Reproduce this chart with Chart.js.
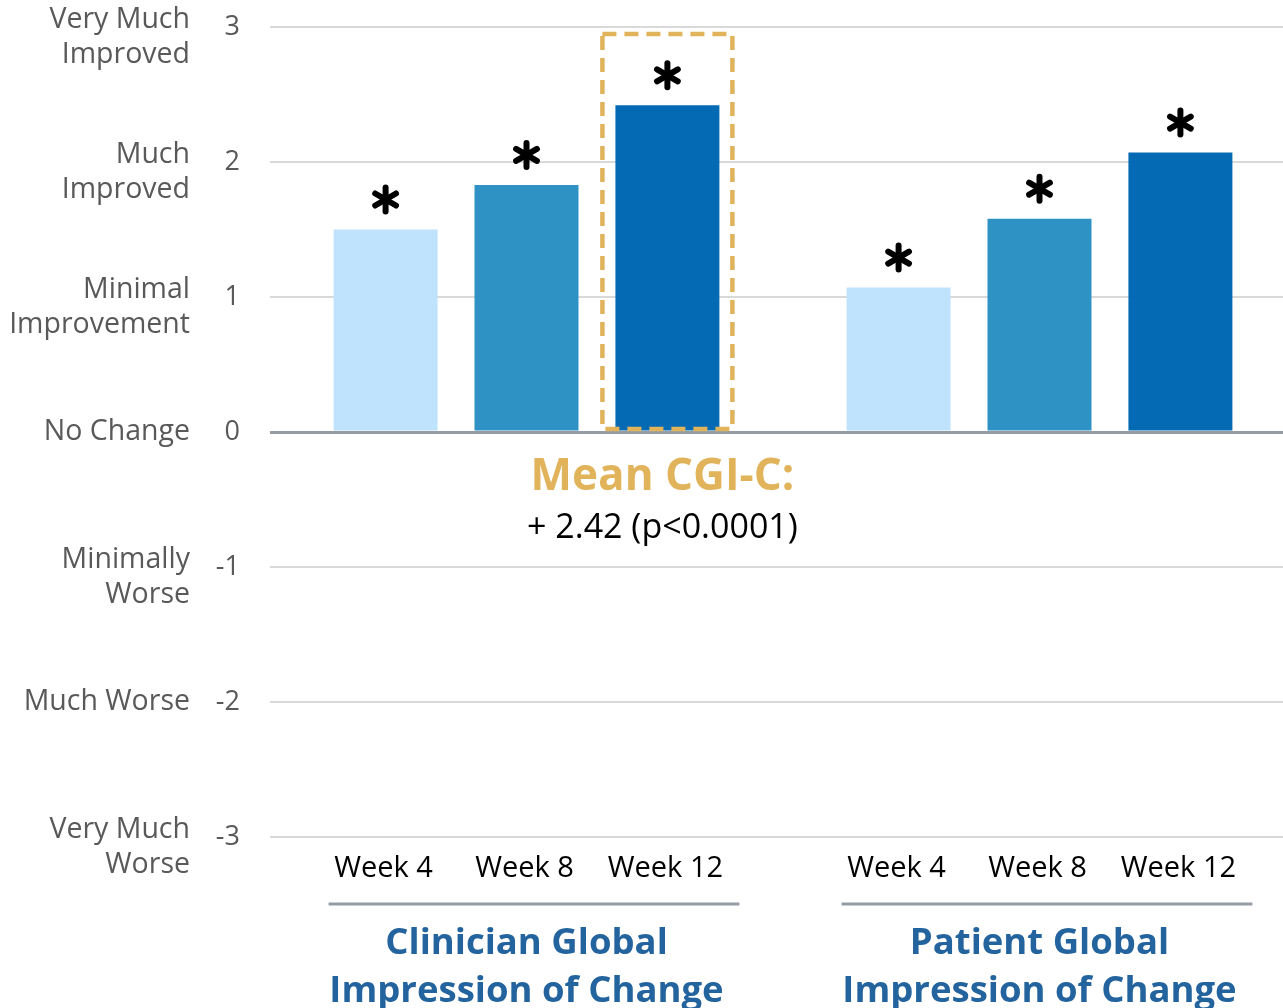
<!DOCTYPE html>
<html>
<head>
<meta charset="utf-8">
<title>Global Impression of Change</title>
<script src="https://cdn.jsdelivr.net/npm/chart.js@4.4.1/dist/chart.umd.min.js"></script>
<style>
  html, body { margin: 0; padding: 0; background: #ffffff; overflow: hidden; }
  #wrap { width: 1300px; height: 1008px; }
</style>
</head>
<body>
<div id="wrap"><canvas id="chart" width="1300" height="1008"></canvas></div>
<script>
// Groups (scales) and the visits within each group
const groups = ['Clinician Global Impression of Change', 'Patient Global Impression of Change'];
const groupTitleLines = [['Clinician Global', 'Impression of Change'], ['Patient Global', 'Impression of Change']];
const weeks = ['Week 4', 'Week 8', 'Week 12'];

// Mean change score per group, one array per visit
const week4 = [1.50, 1.07];
const week8 = [1.83, 1.58];
const week12 = [2.42, 2.07];

// Significance flags per group, one array per visit
const sig4 = [true, true];
const sig8 = [true, true];
const sig12 = [true, true];

// Rating scale ticks and their verbal anchors
const tickValues = [3, 2, 1, 0, -1, -2, -3];
const tickAnchors = [
  ['Very Much', 'Improved'],
  ['Much', 'Improved'],
  ['Minimal', 'Improvement'],
  ['No Change'],
  ['Minimally', 'Worse'],
  ['Much Worse'],
  ['Very Much', 'Worse']
];

// Highlighted result
const highlightGroup = 0;
const highlightWeek = 2;
const highlightTitle = 'Mean CGI-C:';
const highlightP = 'p<0.0001';

const barColors = ['#bfe3fc', '#2e92c4', '#046ab4'];
const FONT = '"Open Sans", "Noto Sans", sans-serif';
const GOLD = '#e1b45b';
const AXIS_GREY = '#595959';

const seriesValues = [week4, week8, week12];
const seriesSig = [sig4, sig8, sig12];

function drawAsterisk(ctx, cx, cy, r) {
  ctx.save();
  ctx.strokeStyle = '#000000';
  ctx.lineWidth = 6;
  ctx.lineCap = 'round';
  for (let k = 0; k < 3; k++) {
    const a = Math.PI / 2 + k * Math.PI / 3;
    ctx.beginPath();
    ctx.moveTo(cx - r * Math.cos(a), cy - r * Math.sin(a));
    ctx.lineTo(cx + r * Math.cos(a), cy + r * Math.sin(a));
    ctx.stroke();
  }
  ctx.restore();
}

const decorations = {
  id: 'decorations',
  afterDatasetsDraw(chart) {
    const ctx = chart.ctx;
    const area = chart.chartArea;
    const y = chart.scales.y;

    // numeric ticks and their verbal anchors
    ctx.save();
    ctx.fillStyle = AXIS_GREY;
    ctx.textAlign = 'right';
    ctx.textBaseline = 'middle';
    tickValues.forEach((v, i) => {
      const py = y.getPixelForValue(v);
      ctx.font = '27px ' + FONT;
      ctx.fillText(String(v), area.left - 30, py);
      ctx.font = '28.5px ' + FONT;
      const lines = tickAnchors[i];
      if (lines.length === 1) {
        ctx.fillText(lines[0], area.left - 80, py);
      } else {
        ctx.fillText(lines[0], area.left - 80, py - 7);
        ctx.fillText(lines[1], area.left - 80, py + 28);
      }
    });
    ctx.restore();

    // significance markers above the bars
    seriesValues.forEach((vals, d) => {
      const meta = chart.getDatasetMeta(d);
      meta.data.forEach((bar, g) => {
        if (seriesSig[d][g]) drawAsterisk(ctx, bar.x, bar.y - 30, 12);
      });
    });

    // visit labels under each bar
    ctx.save();
    ctx.font = '29px ' + FONT;
    ctx.fillStyle = '#000000';
    ctx.textAlign = 'center';
    ctx.textBaseline = 'middle';
    seriesValues.forEach((vals, d) => {
      const meta = chart.getDatasetMeta(d);
      meta.data.forEach((bar) => {
        ctx.fillText(weeks[d], bar.x - 2, area.bottom + 32);
      });
    });
    ctx.restore();

    // group brackets and titles
    const first = chart.getDatasetMeta(0);
    const last = chart.getDatasetMeta(seriesValues.length - 1);
    groups.forEach((name, g) => {
      const b0 = first.data[g], b1 = last.data[g];
      const x0 = b0.x - b0.width / 2 - 5;
      const x1 = b1.x + b1.width / 2 + 20;
      ctx.save();
      ctx.strokeStyle = '#959ca3';
      ctx.lineWidth = 3;
      ctx.beginPath();
      ctx.moveTo(x0, area.bottom + 67);
      ctx.lineTo(x1, area.bottom + 67);
      ctx.stroke();
      const cx = (b0.x - b0.width / 2 + b1.x + b1.width / 2) / 2;
      ctx.font = 'bold 36.5px ' + FONT;
      ctx.fillStyle = '#23649e';
      ctx.textAlign = 'center';
      ctx.textBaseline = 'middle';
      ctx.fillText(groupTitleLines[g][0], cx, area.bottom + 107);
      ctx.fillText(groupTitleLines[g][1], cx, area.bottom + 155);
      ctx.restore();
    });

    // highlight box around the key bar and its caption
    const hb = chart.getDatasetMeta(highlightWeek).data[highlightGroup];
    const bx0 = hb.x - hb.width / 2 - 13;
    const bx1 = hb.x + hb.width / 2 + 13;
    const by0 = area.top + 7;
    const by1 = y.getPixelForValue(0) - 3;
    ctx.save();
    ctx.strokeStyle = GOLD;
    ctx.lineWidth = 4.5;
    ctx.setLineDash([14, 8]);
    ctx.strokeRect(bx0, by0, bx1 - bx0, by1 - by0);
    ctx.restore();

    ctx.save();
    ctx.textAlign = 'center';
    ctx.textBaseline = 'middle';
    ctx.font = 'bold 44px ' + FONT;
    ctx.fillStyle = GOLD;
    ctx.fillText(highlightTitle, hb.x - 5, y.getPixelForValue(0) + 45);
    ctx.font = '34px ' + FONT;
    ctx.fillStyle = '#000000';
    const v = seriesValues[highlightWeek][highlightGroup];
    ctx.fillText('+ ' + v.toFixed(2) + ' (' + highlightP + ')', hb.x - 5, y.getPixelForValue(0) + 96);
    ctx.restore();
  }
};

new Chart(document.getElementById('chart'), {
  type: 'bar',
  data: {
    labels: groups,
    datasets: seriesValues.map((vals, d) => ({
      label: weeks[d],
      data: vals,
      backgroundColor: barColors[d],
      borderWidth: 0,
      categoryPercentage: 0.824,
      barPercentage: 0.738
    }))
  },
  options: {
    responsive: false,
    animation: false,
    layout: { padding: { left: 0, right: 4, top: 27, bottom: 171 } },
    plugins: { legend: { display: false }, tooltip: { enabled: false } },
    scales: {
      x: { display: false },
      y: {
        min: -3,
        max: 3,
        afterFit(scale) { scale.width = 270; },
        border: { display: false },
        ticks: { stepSize: 1, display: false },
        grid: {
          drawTicks: false,
          color: (c) => c.tick && c.tick.value === 0 ? '#959ca3' : '#d9d9d9',
          lineWidth: (c) => c.tick && c.tick.value === 0 ? 3 : 2
        }
      }
    }
  },
  plugins: [decorations]
});
</script>
</body>
</html>
